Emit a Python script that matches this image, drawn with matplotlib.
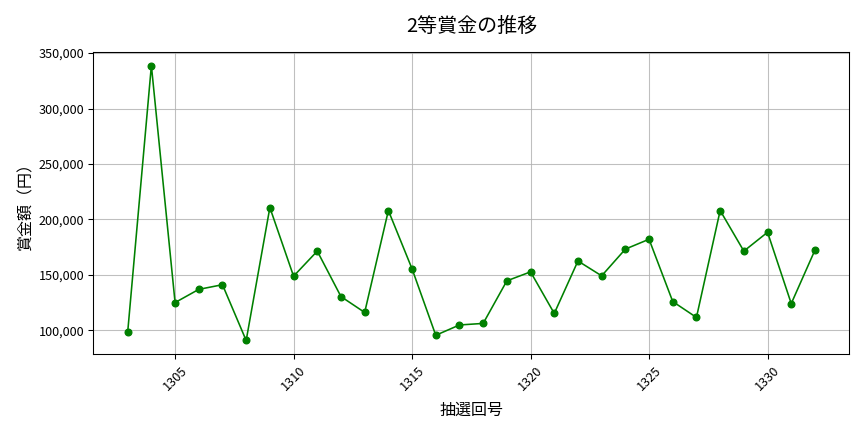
import matplotlib
matplotlib.use('Agg')
import matplotlib.pyplot as plt
from matplotlib.ticker import FuncFormatter

plt.rcParams['font.family'] = ['Noto Sans CJK JP', 'DejaVu Sans']

# 抽選回号と2等賞金（円）
draws = list(range(1303, 1333))
prize = [98200, 338700, 125000, 136900, 141100, 90800, 210700, 148800, 171400, 130400,
         116100, 208000, 155400, 95500, 104800, 106200, 144600, 152700, 115200, 162500,
         149100, 173200, 182100, 125900, 111600, 208000, 171400, 188400, 124100, 172300]

fig, ax = plt.subplots(figsize=(9, 4.5), dpi=96)
ax.plot(draws, prize, marker='o', color='green', linewidth=1.2, markersize=5)

ax.set_title('2等賞金の推移', fontsize=15, pad=15)
ax.set_xlabel('抽選回号', fontsize=12, labelpad=6.5)
ax.set_ylabel('賞金額（円）', fontsize=12, labelpad=3)
ax.yaxis.set_major_formatter(FuncFormatter(lambda v, p: f'{int(v):,}'))
plt.xticks(rotation=45)
ax.grid(True, alpha=0.8, color='#b0b0b0')
ax.tick_params(labelsize=9.5)

plt.tight_layout()
plt.subplots_adjust(left=0.108, bottom=0.18, top=0.88, right=0.983)
plt.savefig('out.png', dpi=96)
